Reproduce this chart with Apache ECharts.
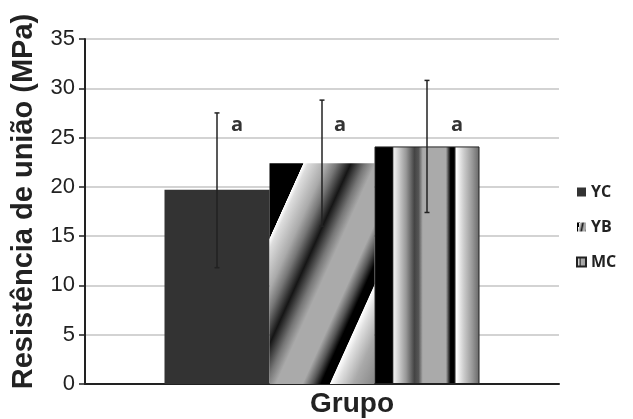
<!DOCTYPE html>
<html>
<head>
<meta charset="utf-8">
<script src="https://cdn.jsdelivr.net/npm/echarts@6/dist/echarts.min.js"></script>
<style>
html,body{margin:0;padding:0;background:#fff;}
#chart{width:633px;height:419px;}
</style>
</head>
<body>
<div id="chart"></div>
<script>
// ---- data ----
const categories = ['Grupo'];
const seriesNames = ['YC', 'YB', 'MC'];
const means = [19.7, 22.4, 24.1];
const errLow = [11.8, 16.0, 17.4];
const errHigh = [27.5, 28.8, 30.8];
const letters = ['a', 'a', 'a'];
const letterValue = [26.2, 26.2, 26.2];
const yTicks = [0, 5, 10, 15, 20, 25, 30, 35];

// ---- style ----
const BAR_W = 105;
const letterDx = [20, 18, 30];
const ink = '#222';

const fillYC = '#333333';
const fillYB = new echarts.graphic.LinearGradient(0, 0, 1.613, 0.3455, [
  {offset: 0, color: '#000'},
  {offset: 0.165, color: '#000'},
  {offset: 0.168, color: '#fff'},
  {offset: 0.19, color: '#ddd'},
  {offset: 0.28, color: '#aaa'},
  {offset: 0.33, color: '#777'},
  {offset: 0.40, color: '#151515'},
  {offset: 0.47, color: '#777'},
  {offset: 0.52, color: '#aaa'},
  {offset: 0.65, color: '#aaa'},
  {offset: 0.70, color: '#555'},
  {offset: 0.74, color: '#000'},
  {offset: 0.782, color: '#000'},
  {offset: 0.786, color: '#fff'},
  {offset: 0.82, color: '#e0e0e0'},
  {offset: 0.9, color: '#aaa'},
  {offset: 1, color: '#888'}
]);
const fillMC = new echarts.graphic.LinearGradient(0, 0, 1, 0, [
  {offset: 0, color: '#000'},
  {offset: 0.17, color: '#000'},
  {offset: 0.185, color: '#eee'},
  {offset: 0.21, color: '#ddd'},
  {offset: 0.30, color: '#999'},
  {offset: 0.38, color: '#444'},
  {offset: 0.42, color: '#555'},
  {offset: 0.46, color: '#aaa'},
  {offset: 0.68, color: '#aaa'},
  {offset: 0.71, color: '#333'},
  {offset: 0.725, color: '#000'},
  {offset: 0.76, color: '#000'},
  {offset: 0.78, color: '#fff'},
  {offset: 0.85, color: '#ccc'},
  {offset: 0.93, color: '#999'},
  {offset: 1, color: '#666'}
]);
const fills = [fillYC, fillYB, fillMC];
const borders = [
  {borderWidth: 0},
  {borderWidth: 0},
  {borderWidth: 1, borderColor: '#222'}
];

const chart = echarts.init(document.getElementById('chart'), null, {renderer: 'canvas'});

const barSeries = seriesNames.map((name, i) => ({
  name: name,
  type: 'bar',
  barWidth: BAR_W,
  barGap: '0%',
  data: [means[i]],
  itemStyle: Object.assign({color: fills[i]}, borders[i]),
  emphasis: {disabled: true},
  animation: false
}));

const errSeries = {
  type: 'custom',
  name: 'err',
  z: 10,
  animation: false,
  data: seriesNames.map((n, i) => [0, errLow[i], errHigh[i], i, letterValue[i]]),
  encode: {x: 0, y: [1, 2]},
  renderItem: function (params, api) {
    const idx = api.value(3);
    const lo = api.coord([api.value(0), api.value(1)]);
    const hi = api.coord([api.value(0), api.value(2)]);
    const lt = api.coord([api.value(0), api.value(4)]);
    const x = lo[0] + (idx - 1) * BAR_W;
    const cap = 2.5;
    const st = {stroke: ink, lineWidth: 1.5};
    return {
      type: 'group',
      children: [
        {type: 'line', shape: {x1: x, y1: lo[1], x2: x, y2: hi[1]}, style: st},
        {type: 'line', shape: {x1: x - cap, y1: lo[1], x2: x + cap, y2: lo[1]}, style: st},
        {type: 'line', shape: {x1: x - cap, y1: hi[1], x2: x + cap, y2: hi[1]}, style: st},
        {type: 'text', x: x + letterDx[idx], y: lt[1],
          style: {text: letters[idx], fill: '#333', font: 'bold 20px "Open Sans", sans-serif',
            align: 'center', verticalAlign: 'middle'}}
      ]
    };
  }
};

chart.setOption({
  backgroundColor: '#fff',
  animation: false,
  grid: {left: 85, right: 74, top: 39, bottom: 35, containLabel: false, outerBoundsMode: 'none'},
  legend: {
    data: seriesNames,
    orient: 'vertical',
    left: 571,
    top: 179,
    itemWidth: 9,
    itemHeight: 9,
    itemGap: 19,
    icon: 'rect',
    selectedMode: false,
    textStyle: {fontFamily: 'Open Sans', fontWeight: 'bold', fontSize: 16, color: '#222'}
  },
  xAxis: {
    type: 'category',
    data: categories,
    name: 'Grupo',
    nameLocation: 'middle',
    nameGap: 6,
    nameTextStyle: {fontFamily: 'Liberation Sans', fontWeight: 'bold', fontSize: 28, color: ink,
      verticalAlign: 'top', padding: [0, 0, 0, 60]},
    axisLine: {show: true, lineStyle: {color: ink, width: 2}},
    axisTick: {show: false},
    axisLabel: {show: false},
    splitLine: {show: false}
  },
  yAxis: {
    type: 'value',
    min: yTicks[0],
    max: yTicks[yTicks.length - 1],
    interval: 5,
    name: 'Resistência de união (MPa)',
    nameLocation: 'middle',
    nameGap: 47,
    nameTextStyle: {fontFamily: 'Liberation Sans', fontWeight: 'bold', fontSize: 29, color: ink,
      padding: [0, 0, 0, 20]},
    axisLine: {show: true, lineStyle: {color: ink, width: 2}},
    axisTick: {show: true, length: 6, lineStyle: {color: ink, width: 1.5}},
    axisLabel: {fontFamily: 'Liberation Sans', fontSize: 22, color: ink, margin: 10},
    splitLine: {show: true, lineStyle: {color: '#c4c4c4', width: 1.5}}
  },
  series: barSeries.concat([errSeries])
});
</script>
</body>
</html>
